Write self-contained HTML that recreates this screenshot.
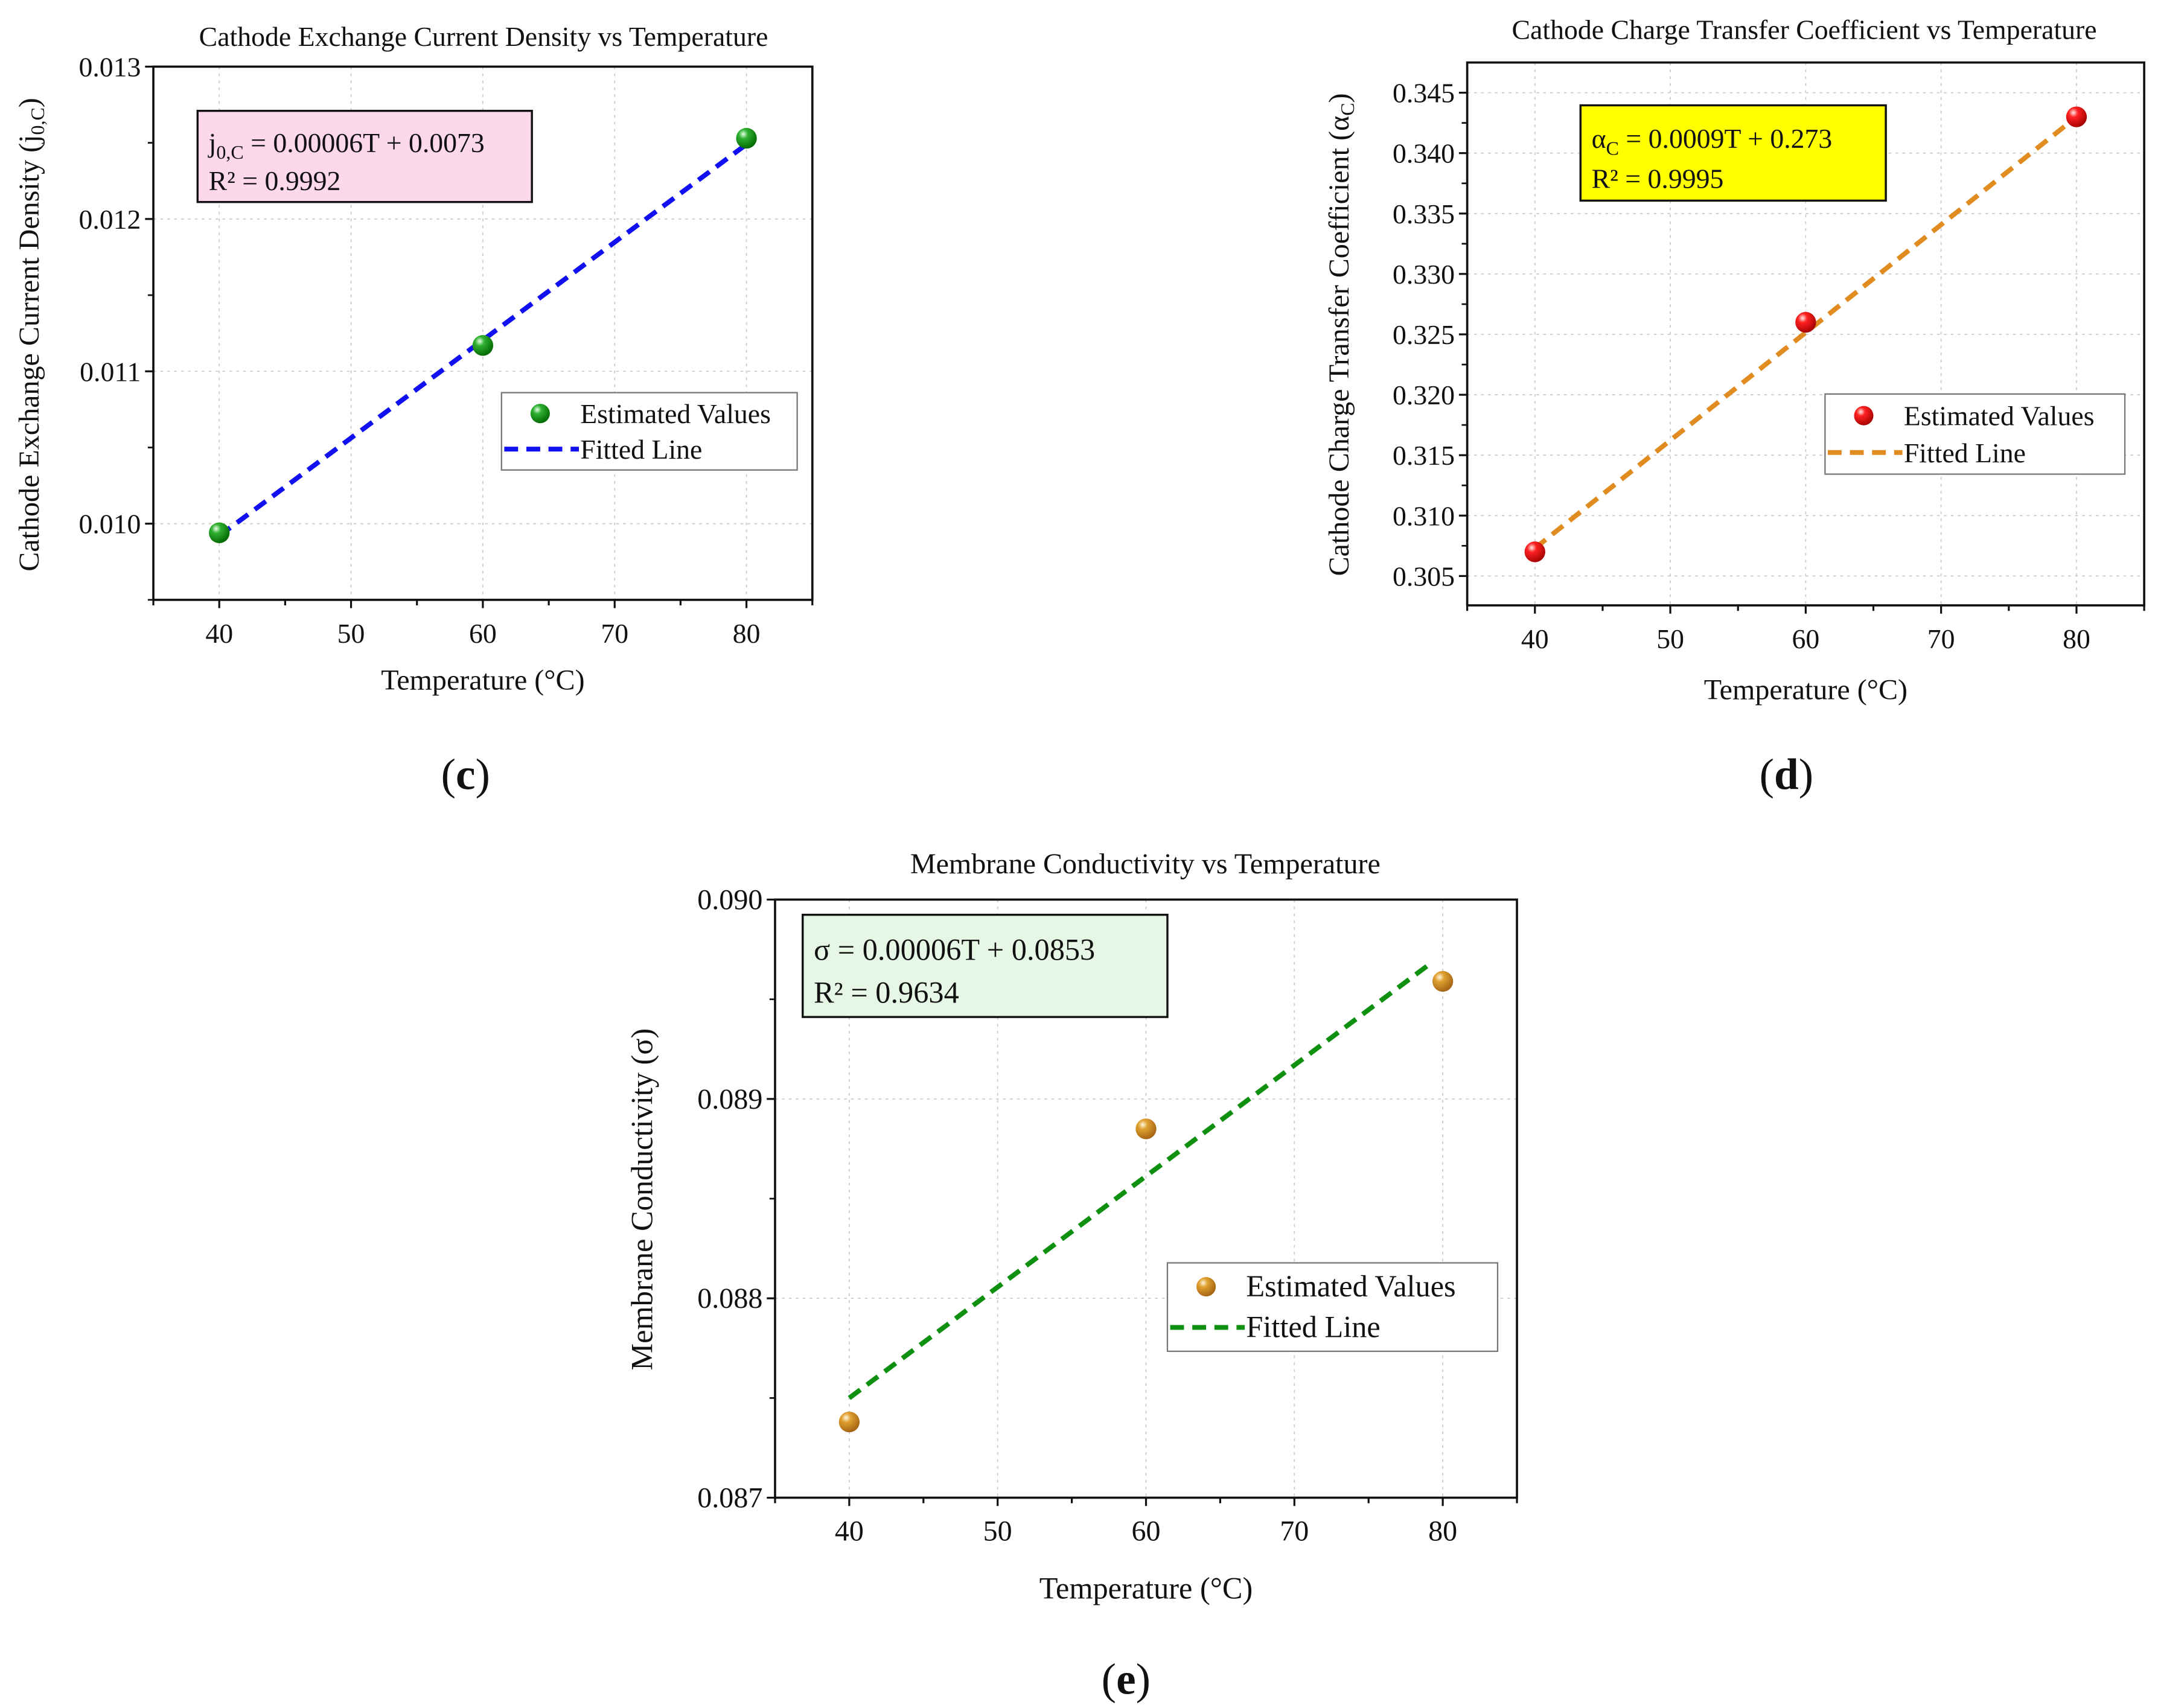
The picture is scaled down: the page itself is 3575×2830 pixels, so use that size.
<!DOCTYPE html>
<html><head><meta charset="utf-8"><style>
html,body{margin:0;padding:0;background:#fff;}
svg{display:block;}
text{font-family:"Liberation Serif",serif;fill:#111;}
</style></head><body>
<svg id="root" width="3575" height="2830" viewBox="0 0 1562 1236" xmlns="http://www.w3.org/2000/svg">
<defs>
<radialGradient id="gGreen" cx="0.35" cy="0.3" r="0.75"><stop offset="0" stop-color="#e8ffe8"/><stop offset="0.3" stop-color="#2fb02f"/><stop offset="1" stop-color="#006400"/></radialGradient>
<radialGradient id="gRed" cx="0.35" cy="0.3" r="0.75"><stop offset="0" stop-color="#ffe8e8"/><stop offset="0.3" stop-color="#ff2020"/><stop offset="1" stop-color="#a00000"/></radialGradient>
<radialGradient id="gOrange" cx="0.35" cy="0.3" r="0.75"><stop offset="0" stop-color="#fff6e0"/><stop offset="0.3" stop-color="#e0a030"/><stop offset="1" stop-color="#a06010"/></radialGradient>
</defs>
</svg>
<script>
// chart c
const tempC = [40, 60, 80];
const valuesC = [0.00994, 0.01117, 0.01253];
const fitC = [0.00992, 0.01249];
const yTicksC = [0.010, 0.011, 0.012, 0.013];
// chart d
const tempD = [40, 60, 80];
const valuesD = [0.3070, 0.3260, 0.3430];
const fitD = [0.3073, 0.3430];
const yTicksD = [0.305, 0.310, 0.315, 0.320, 0.325, 0.330, 0.335, 0.340, 0.345];
// chart e
const tempE = [40, 60, 80];
const valuesE = [0.08738, 0.08885, 0.08959];
const fitE = [0.08750, 0.08967];
const fitTE = [40, 79];
const yTicksE = [0.087, 0.088, 0.089, 0.090];
const xTicks = [40, 50, 60, 70, 80];

const NS = "http://www.w3.org/2000/svg";
const root = document.getElementById('root');
function mk(tag, attrs, parent, txt){
  const e = document.createElementNS(NS, tag);
  for (const k in attrs) e.setAttribute(k, attrs[k]);
  if (txt !== undefined) e.textContent = txt;
  (parent || root).appendChild(e);
  return e;
}

function chart(o){
  const g = mk('g', {});
  
  
  const X = v => o.L + (v - 35) / 50 * (o.R - o.L);
  const Y = v => o.B - (v - o.ymin) / (o.ymax - o.ymin) * (o.B - o.T);
  xTicks.forEach(t => {
    const l = mk('line', {x1:X(t), x2:X(t), y1:o.T, y2:o.B, stroke:'#ccc', 'stroke-width':0.8, 'stroke-dasharray':'2,3'}, g);
    
    
  });
  o.yt.forEach(t => {
    const l = mk('line', {x1:o.L, x2:o.R, y1:Y(t), y2:Y(t), stroke:'#ccc', 'stroke-width':0.8, 'stroke-dasharray':'2,3'}, g);
    
    
  });
  const fr = mk('rect', {x:o.L, y:o.T, width:o.R-o.L, height:o.B-o.T, fill:'none', stroke:'#111', 'stroke-width':1.6}, g);
  
  
  for (let t = 35; t <= 85; t += 5) {
    mk('line', {x1:X(t), x2:X(t), y1:o.B, y2:o.B + (t % 10 === 0 ? 6 : 4), stroke:'#111', 'stroke-width':1.4}, g);
  }
  xTicks.forEach(t => {
    const tx = mk('text', {x:X(t), y:o.B + 31, 'text-anchor':'middle', 'font-size':o.fs}, g, String(t));
    
    
  });
  const step = o.yt[1] - o.yt[0];
  o.yt.forEach(t => {
    mk('line', {x1:o.L - 6, x2:o.L, y1:Y(t), y2:Y(t), stroke:'#111', 'stroke-width':1.4}, g);
    const m = t - step / 2;
    if (m > o.ymin) mk('line', {x1:o.L - 4, x2:o.L, y1:Y(m), y2:Y(m), stroke:'#111', 'stroke-width':1.2}, g);
    const tx = mk('text', {x:o.L - 9, y:Y(t) + 7, 'text-anchor':'end', 'font-size':o.fs}, g, t.toFixed(3));
    
    
  });
  const ti = mk('text', {x:o.tx, y:o.ty, 'text-anchor':'middle', 'font-size':o.tfs}, g, o.title);
  
  
  const xl = mk('text', {x:(o.L+o.R)/2, y:o.xly, 'text-anchor':'middle', 'font-size':o.lfs}, g, 'Temperature (°C)');
  
  
  const yl = mk('text', {x:0, y:0, 'text-anchor':'middle', 'font-size':o.lfs, transform:`translate(${o.ylx},${o.yly}) rotate(-90)`}, g);
  yl.innerHTML = o.ylabel;
  
  
  const ft = o.fitT || [40, 80];
  const fl = mk('line', {x1:X(ft[0]), y1:Y(o.fit[0]), x2:X(ft[1]), y2:Y(o.fit[1]), stroke:o.lineColor, 'stroke-width':3.5, 'stroke-dasharray':'10,6'}, g);
  
  
  o.xs.forEach((t, i) => {
    const c = mk('circle', {cx:X(t), cy:Y(o.ys[i]), r:7.5, fill:`url(#${o.grad})`}, g);
    
    
  });
  const eb = mk('rect', {x:o.eq[0], y:o.eq[1], width:o.eq[2], height:o.eq[3], fill:o.eqFill, stroke:'#111', 'stroke-width':1.5}, g);
  
  
  const e1 = mk('text', {x:o.eq[0] + 8, y:o.eq[1] + o.eq[3]*0.36 + 6, 'font-size':o.efs}, g);
  e1.innerHTML = o.eqText;
  
  
  const e2 = mk('text', {x:o.eq[0] + 8, y:o.eq[1] + o.eq[3]*0.78 + 6, 'font-size':o.efs}, g, o.r2);
  
  
  const lg = o.lg;
  const lr = mk('rect', {x:lg[0], y:lg[1], width:lg[2], height:lg[3], fill:'#fff', stroke:'#777', 'stroke-width':1}, g);
  
  
  const mc = mk('circle', {cx:lg[0] + 28, cy:lg[1] + lg[3]*0.27, r:7, fill:`url(#${o.grad})`}, g);
  
  
  const lt1 = mk('text', {x:lg[0] + 57, y:lg[1] + lg[3]*0.27 + 7, 'font-size':o.lgfs}, g, 'Estimated Values');
  
  
  const ll = mk('line', {x1:lg[0] + 2, x2:lg[0] + 56, y1:lg[1] + lg[3]*0.73, y2:lg[1] + lg[3]*0.73, stroke:o.lineColor, 'stroke-width':3.5, 'stroke-dasharray':'10,6'}, g);
  
  
  const lt2 = mk('text', {x:lg[0] + 57, y:lg[1] + lg[3]*0.73 + 7, 'font-size':o.lgfs}, g, 'Fitted Line');
  
  
  const pl = mk('text', {x:o.pl[0], y:o.pl[1], 'text-anchor':'middle', 'font-size':32}, g);
  pl.innerHTML = '(<tspan font-weight="bold">' + o.plText + '</tspan>)';
  
  
}

chart({name:'chart-c', L:111, R:588, T:48, B:434, ymin:0.0095, ymax:0.013, yt:yTicksC,
  xs:tempC, ys:valuesC, fit:fitC, lineColor:'#1010f0', grad:'gGreen', fs:20, tfs:20, lfs:21,
  title:'Cathode Exchange Current Density vs Temperature', tx:350, ty:33, xly:499, ylx:28, yly:242,
  ylabel:'Cathode Exchange Current Density (j<tspan font-size="14" dy="4">0,C</tspan><tspan dy="-4">)</tspan>',
  eq:[143,80,242,66], eqFill:'#fcd8ea', efs:20,
  eqText:'j<tspan font-size="14" dy="5">0,C</tspan><tspan dy="-5"> = 0.00006T + 0.0073</tspan>', r2:'R² = 0.9992',
  lg:[363,284,214,56], lgfs:20, pl:[337,571], plText:'c'});

chart({name:'chart-d', L:1062, R:1552, T:45, B:438, ymin:0.30257, ymax:0.3475, yt:yTicksD,
  xs:tempD, ys:valuesD, fit:fitD, lineColor:'#e08c20', grad:'gRed', fs:20, tfs:20, lfs:21,
  title:'Cathode Charge Transfer Coefficient vs Temperature', tx:1306, ty:28, xly:506, ylx:976, yly:242,
  ylabel:'Cathode Charge Transfer Coefficient (α<tspan font-size="14" dy="4">C</tspan><tspan dy="-4">)</tspan>',
  eq:[1144,76,221,69], eqFill:'#ffff00', efs:20,
  eqText:'α<tspan font-size="14" dy="5">C</tspan><tspan dy="-5"> = 0.0009T + 0.273</tspan>', r2:'R² = 0.9995',
  lg:[1321,285,217,58], lgfs:20, pl:[1293,571], plText:'d'});

chart({name:'chart-e', L:561, R:1098, T:651, B:1084, ymin:0.087, ymax:0.090, yt:yTicksE,
  xs:tempE, ys:valuesE, fit:fitE, fitT:fitTE, lineColor:'#109010', grad:'gOrange', fs:21, tfs:21, lfs:22,
  title:'Membrane Conductivity vs Temperature', tx:829, ty:632, xly:1157, ylx:472, yly:868,
  ylabel:'Membrane Conductivity (σ)',
  eq:[581,662,264,74], eqFill:'#e6f7e6', efs:22,
  eqText:'σ = 0.00006T + 0.0853', r2:'R² = 0.9634',
  lg:[845,914,239,64], lgfs:22, pl:[815,1226], plText:'e'});
</script>
</body></html>
